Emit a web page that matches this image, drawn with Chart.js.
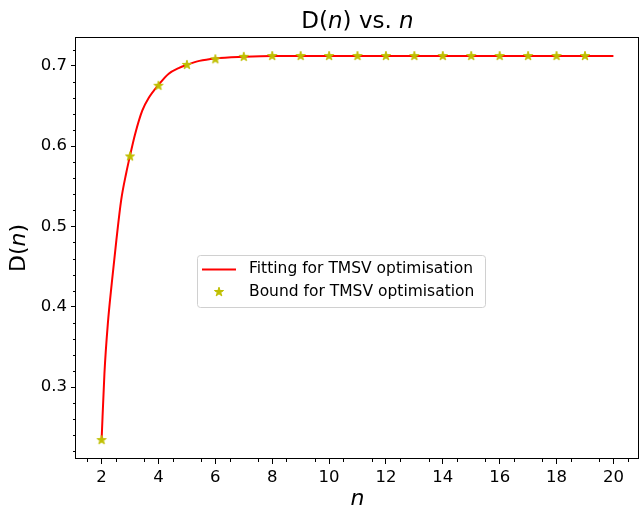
<!DOCTYPE html>
<html lang="en">
<head>
    <meta charset="UTF-8">
    <title>D(n) vs. n</title>
    <script src="https://cdn.jsdelivr.net/npm/chart.js"></script>
    <style>
        body { margin: 0; background: #fff; }
    </style>
</head>
<body>
    <canvas id="dChart" width="644" height="510"></canvas>

    <script>
        // bound points (stars)
        const boundN = [2, 3, 4, 5, 6, 7, 8, 9, 10, 11, 12, 13, 14, 15, 16, 17, 18, 19];
        const boundD = [0.234, 0.587, 0.675, 0.701, 0.708, 0.711, 0.712, 0.712, 0.712, 0.712,
                        0.712, 0.712, 0.712, 0.712, 0.712, 0.712, 0.712, 0.712];

        // fitted curve, sampled along the red line in the picture
        const fitN = [2, 2.1, 2.22, 2.36, 2.52, 2.69, 2.87, 3, 3.18, 3.43, 3.66, 4, 4.36, 4.71, 5, 5.44, 6, 7,
                      8, 10, 12, 14, 16, 18, 20];
        const fitD = [0.234, 0.317, 0.379, 0.43, 0.483, 0.533, 0.567, 0.588, 0.615, 0.644, 0.66, 0.676, 0.69,
                      0.697, 0.701, 0.706, 0.709, 0.711, 0.712, 0.712, 0.712, 0.712, 0.712, 0.712, 0.712];

        const xTicks = [2, 4, 6, 8, 10, 12, 14, 16, 18, 20];
        const yTicks = [0.3, 0.4, 0.5, 0.6, 0.7];

        const FONT = 'DejaVu Sans';

        // matplotlib style filled star marker
        function makeStar(r, color) {
            const c = document.createElement('canvas');
            const s = Math.ceil(r * 2 + 2);
            c.width = s; c.height = s;
            const g = c.getContext('2d');
            g.beginPath();
            for (let i = 0; i < 10; i++) {
                const rad = i % 2 === 0 ? r : r * 0.382;
                const a = -Math.PI / 2 + i * Math.PI / 5;
                const px = s / 2 + rad * Math.cos(a);
                const py = s / 2 + rad * Math.sin(a);
                if (i === 0) g.moveTo(px, py); else g.lineTo(px, py);
            }
            g.closePath();
            g.fillStyle = color;
            g.fill();
            g.strokeStyle = color;
            g.lineWidth = 1;
            g.stroke();
            return c;
        }
        const starImg = makeStar(4.8, '#bfbf00');

        // draw a run of text pieces, some in italics
        function drawPieces(ctx, pieces, size, cx, cy) {
            let total = 0;
            pieces.forEach(p => {
                ctx.font = (p.it ? 'italic ' : '') + size + 'px ' + FONT;
                p.w = ctx.measureText(p.t).width;
                total += p.w;
            });
            let x = cx - total / 2;
            pieces.forEach(p => {
                ctx.font = (p.it ? 'italic ' : '') + size + 'px ' + FONT;
                ctx.fillText(p.t, x, cy);
                x += p.w;
            });
        }

        const decorPlugin = {
            id: 'decor',
            afterDraw(chart) {
                const ctx = chart.ctx;
                const a = chart.chartArea;
                const xs = chart.scales.x, ys = chart.scales.y;
                ctx.save();

                // frame
                ctx.strokeStyle = '#000';
                ctx.lineWidth = 1;
                ctx.strokeRect(Math.round(a.left) - 0.5, Math.round(a.top) + 0.5,
                               Math.round(a.right - a.left), Math.round(a.bottom - a.top) - 1);

                // minor ticks
                ctx.beginPath();
                for (let v = 1.5; v <= 20.6; v += 1) {
                    const px = Math.round(xs.getPixelForValue(v)) + 0.5;
                    ctx.moveTo(px, a.bottom); ctx.lineTo(px, a.bottom + 3);
                }
                for (let k = 11; k <= 36; k++) {
                    if (k % 5 === 0) continue;
                    const py = Math.round(ys.getPixelForValue(k * 0.02)) + 0.5;
                    ctx.moveTo(a.left, py); ctx.lineTo(a.left - 3, py);
                }
                ctx.stroke();

                // title and y label
                ctx.fillStyle = '#000';
                ctx.textBaseline = 'alphabetic';
                ctx.textAlign = 'left';
                drawPieces(ctx, [{t: 'D('}, {t: 'n', it: true}, {t: ') vs. '}, {t: 'n', it: true}],
                           23, (a.left + a.right) / 2, 28);
                ctx.save();
                ctx.translate(25, (a.top + a.bottom) / 2);
                ctx.rotate(-Math.PI / 2);
                drawPieces(ctx, [{t: 'D('}, {t: 'n', it: true}, {t: ')'}], 22, 0, 0);
                ctx.restore();

                // legend box
                const lx = 197.5, ly = 255.5, lw = 288, lh = 52;
                ctx.beginPath();
                ctx.roundRect(lx, ly, lw, lh, 3);
                ctx.fillStyle = 'rgba(255,255,255,0.8)';
                ctx.fill();
                ctx.strokeStyle = '#d0d0d0';
                ctx.stroke();

                const ds = chart.data.datasets;
                ctx.strokeStyle = ds[1].borderColor;
                ctx.lineWidth = 2;
                ctx.beginPath();
                ctx.moveTo(202, 269.5); ctx.lineTo(236, 269.5);
                ctx.stroke();
                ctx.drawImage(starImg, 219 - starImg.width / 2, 292 - starImg.height / 2);

                ctx.fillStyle = '#000';
                ctx.textBaseline = 'middle';
                ctx.font = '15.5px ' + FONT;
                ctx.fillText(ds[1].label, 249, 269);
                ctx.fillText(ds[0].label, 249, 292);
                ctx.restore();
            }
        };

        const ctx = document.getElementById('dChart').getContext('2d');
        new Chart(ctx, {
            type: 'scatter',
            data: {
                datasets: [
                    {
                        label: 'Bound for TMSV optimisation',
                        data: boundN.map((n, i) => ({x: n, y: boundD[i]})),
                        pointStyle: starImg,
                        showLine: false,
                        order: 0
                    },
                    {
                        label: 'Fitting for TMSV optimisation',
                        data: fitN.map((n, i) => ({x: n, y: fitD[i]})),
                        showLine: true,
                        borderColor: '#ff0000',
                        borderWidth: 2,
                        pointRadius: 0,
                        cubicInterpolationMode: 'monotone',
                        order: 1
                    }
                ]
            },
            options: {
                responsive: false,
                animation: false,
                events: [],
                layout: { padding: { top: 37, right: 2, left: 0, bottom: 0 } },
                plugins: {
                    legend: { display: false },
                    title: { display: false },
                    tooltip: { enabled: false }
                },
                scales: {
                    x: {
                        type: 'linear',
                        min: 1.1,
                        max: 20.9,
                        afterBuildTicks: s => { s.ticks = xTicks.map(v => ({value: v})); },
                        afterFit: s => { s.height = 51; },
                        grid: { drawOnChartArea: false, tickLength: 5, tickColor: '#000' },
                        border: { display: false },
                        ticks: {
                            color: '#000',
                            padding: 4,
                            maxRotation: 0,
                            font: { family: FONT, size: 16.5 },
                            callback: v => String(v)
                        },
                        title: {
                            display: true,
                            text: 'n',
                            color: '#000',
                            padding: 0,
                            font: { family: FONT, size: 22, style: 'italic', lineHeight: 1 }
                        }
                    },
                    y: {
                        min: 0.2105,
                        max: 0.7357,
                        afterBuildTicks: s => { s.ticks = yTicks.map(v => ({value: v})); },
                        afterFit: s => { s.width = 76; },
                        grid: { drawOnChartArea: false, tickLength: 5, tickColor: '#000' },
                        border: { display: false },
                        ticks: {
                            color: '#000',
                            padding: 4,
                            font: { family: FONT, size: 16.5 },
                            callback: v => v.toFixed(1)
                        }
                    }
                }
            },
            plugins: [decorPlugin]
        });
    </script>
</body>
</html>
